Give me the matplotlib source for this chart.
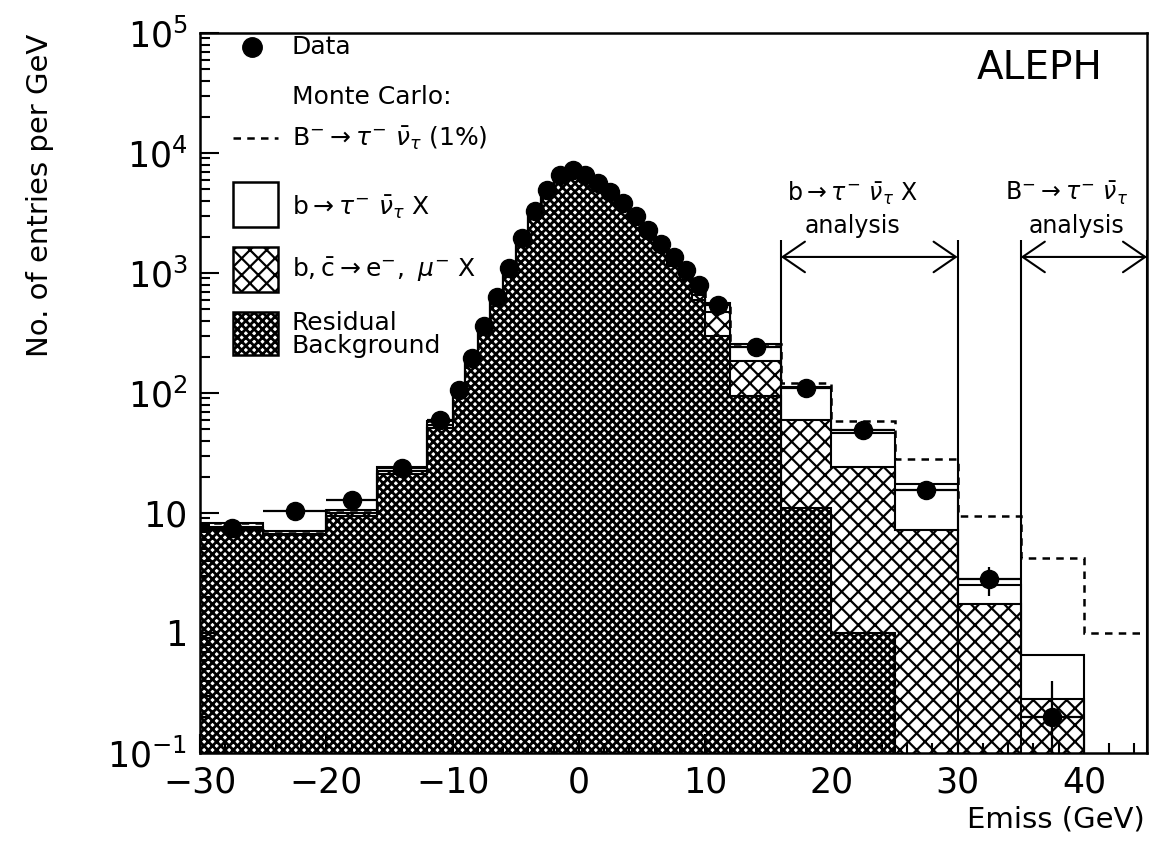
import numpy as np
import matplotlib.pyplot as plt
from matplotlib.patches import Rectangle
from matplotlib.ticker import FixedLocator, FixedFormatter, MultipleLocator, LogLocator, NullFormatter

plt.rcParams['font.family'] = ['DejaVu Sans']
plt.rcParams['mathtext.fontset'] = 'dejavusans'

# bin edges (GeV): wide bins in the tails, 1 GeV bins around the peak
edges = [-30, -25, -20, -16, -12] + list(range(-10, 11)) + [12, 16, 20, 25, 30, 35, 40, 45]

# entries per GeV
data = [7.5, 10.4, 12.8, 23.7, 60,
        106, 195, 360, 630, 1100, 1950, 3300, 4900, 6500, 7200,
        6600, 5600, 4700, 3800, 3000, 2300, 1750, 1350, 1050, 800,
        540, 240, 110, 49, 15.6, 2.8, 0.2, np.nan]
data_err = [1.2, 1.4, 1.8, 2.4, 5.5,
            10, 14, 19, 25, 33, 44, 57, 70, 81, 85,
            81, 75, 69, 62, 55, 48, 42, 37, 32, 29,
            16, 7.7, 5.2, 3.1, 1.8, 0.75, 0.2, 0]

residual = [7.2, 6.5, 9.5, 21, 51,
            95, 178, 335, 595, 1035, 1860, 3130, 4700, 6150, 6800,
            6200, 5300, 4400, 3550, 2700, 2050, 1540, 1150, 880, 600,
            300, 95, 11, 1.0, 0, 0, 0, 0]
semilep = [0.4, 0.2, 0.5, 1.5, 3,
           2, 3, 5, 7, 10, 15, 20, 30, 50, 70,
           70, 80, 80, 80, 80, 80, 60, 50, 50, 60,
           170, 90, 49, 23, 7.2, 1.75, 0.28, 0]
btau = [0.7, 0.4, 0.5, 1.5, 4,
        3, 4, 5, 8, 15, 25, 50, 70, 100, 130,
        130, 120, 120, 120, 120, 120, 100, 100, 120, 140,
        90, 70, 52, 22, 10.3, 0.75, 0.37, 0]
# B- -> tau nu at 1% branching ratio, added on top of the MC sum
b_taunu = [0] * 27 + [8, 12, 10.5, 7, 3.55, 1.0]

edges = np.array(edges, float)
centers = 0.5 * (edges[1:] + edges[:-1])
halfw = 0.5 * (edges[1:] - edges[:-1])
floor = 1e-3

res_top = np.maximum(np.array(residual), floor)
sl_top = np.maximum(np.array(residual) + np.array(semilep), floor)
tot_top = np.maximum(sl_top + np.array(btau), floor)
sig_top = tot_top + np.array(b_taunu)

COARSE, COARSE_LW = 'xx', 1.6
FINE, FINE_LW = 'xxxx', 2.0


def hatched(artist, lw):
    if hasattr(artist, 'set_hatch_linewidth'):
        artist.set_hatch_linewidth(lw)
    return artist


fig = plt.figure(figsize=(11.57, 8.43), dpi=100)
ax = fig.add_axes([0.1729, 0.1068, 0.8185, 0.8541])
ax.set_yscale('log')
ax.set_xlim(-30, 45)
ax.set_ylim(0.1, 1e5)

ax.stairs(tot_top, edges, baseline=floor, fill=True, facecolor='white', edgecolor='k', lw=1.5)
with plt.rc_context({'hatch.linewidth': COARSE_LW}):
    hatched(ax.stairs(sl_top, edges, baseline=floor, fill=True, facecolor='white',
                      edgecolor='k', hatch=COARSE, lw=1.5), COARSE_LW)
with plt.rc_context({'hatch.linewidth': FINE_LW}):
    hatched(ax.stairs(res_top, edges, baseline=floor, fill=True, facecolor='white',
                      edgecolor='k', hatch=FINE, lw=1.5), FINE_LW)
ax.stairs(sig_top, edges, baseline=None, color='k', lw=1.8, linestyle=(0, (3, 2.5)))

ax.errorbar(centers, data, xerr=halfw, yerr=data_err, fmt='o', color='k',
            ms=13, lw=1.6, capsize=0, zorder=5)

# analysis windows
ax.vlines([16, 30, 35, 45], 0.1, 1880, color='k', lw=1.5)
arrow = dict(arrowstyle='<->,head_length=0.8,head_width=0.55', lw=1.5, color='k',
             shrinkA=0, shrinkB=0, mutation_scale=20)
ax.annotate('', xy=(16, 1360), xytext=(30, 1360), arrowprops=arrow)
ax.annotate('', xy=(35, 1360), xytext=(45, 1360), arrowprops=arrow)
ax.text(21.7, 4600, r'$\mathrm{b}\rightarrow\tau^{-}\ \bar{\nu}_{\tau}\ \mathrm{X}$',
        fontsize=17, ha='center', va='center')
ax.text(21.7, 2450, 'analysis', fontsize=17, ha='center', va='center')
ax.text(38.6, 4600, r'$\mathrm{B}^{-}\rightarrow\tau^{-}\ \bar{\nu}_{\tau}$',
        fontsize=17, ha='center', va='center')
ax.text(39.4, 2450, 'analysis', fontsize=17, ha='center', va='center')

ax.text(0.953, 0.951, 'ALEPH', transform=ax.transAxes, fontsize=28, ha='right', va='center')

# legend
tA = ax.transAxes
ax.plot([0.0549], [0.9806], 'o', color='k', ms=14, transform=tA, clip_on=False)
ax.text(0.0971, 0.9806, 'Data', transform=tA, fontsize=18, va='center')
ax.text(0.0971, 0.9111, 'Monte Carlo:', transform=tA, fontsize=18, va='center')
ax.plot([0.0348, 0.0824], [0.8542, 0.8542], color='k', lw=1.8, linestyle=(0, (3, 2.5)), transform=tA)
ax.text(0.0971, 0.8542, r'$\mathrm{B}^{-}\rightarrow\tau^{-}\ \bar{\nu}_{\tau}$ (1%)',
        transform=tA, fontsize=18, va='center')
ax.add_patch(Rectangle((0.0348, 0.7306), 0.0475, 0.0625, transform=tA,
                       facecolor='white', edgecolor='k', lw=1.8))
ax.text(0.0971, 0.7583, r'$\mathrm{b}\rightarrow\tau^{-}\ \bar{\nu}_{\tau}\ \mathrm{X}$',
        transform=tA, fontsize=18, va='center')
with plt.rc_context({'hatch.linewidth': COARSE_LW}):
    ax.add_patch(hatched(Rectangle((0.0348, 0.6403), 0.0475, 0.0625, transform=tA,
                                   facecolor='white', edgecolor='k', hatch=COARSE, lw=1.8),
                         COARSE_LW))
ax.text(0.0971, 0.6708, r'$\mathrm{b},\bar{\mathrm{c}}\rightarrow\mathrm{e}^{-},\ \mu^{-}\ \mathrm{X}$',
        transform=tA, fontsize=18, va='center')
with plt.rc_context({'hatch.linewidth': FINE_LW}):
    ax.add_patch(hatched(Rectangle((0.0348, 0.5528), 0.0475, 0.0597, transform=tA,
                                   facecolor='white', edgecolor='k', hatch=FINE, lw=1.8),
                         FINE_LW))
ax.text(0.0971, 0.5813, 'Residual\nBackground', transform=tA, fontsize=18,
        va='center', linespacing=0.95)

# axes styling
ax.xaxis.set_major_locator(FixedLocator([-30, -20, -10, 0, 10, 20, 30, 40]))
ax.xaxis.set_minor_locator(MultipleLocator(2))
ax.yaxis.set_major_locator(FixedLocator([0.1, 1, 10, 100, 1000, 1e4, 1e5]))
ax.yaxis.set_major_formatter(FixedFormatter([r'$10^{-1}$', '1', '10', r'$10^{2}$',
                                             r'$10^{3}$', r'$10^{4}$', r'$10^{5}$']))
ax.yaxis.set_minor_locator(LogLocator(base=10, subs=np.arange(2, 10)))
ax.yaxis.set_minor_formatter(NullFormatter())
ax.tick_params(which='both', direction='in', top=False, right=False, width=1.5)
ax.tick_params(which='major', length=14, labelsize=25, pad=9)
ax.tick_params(which='minor', length=7)
for s in ax.spines.values():
    s.set_linewidth(1.8)

fig.text(0.0346, 0.7687, 'No. of entries per GeV', rotation=90, fontsize=21,
         ha='center', va='center')
fig.text(0.9896, 0.0273, 'Emiss (GeV)', fontsize=21, ha='right', va='center')

fig.savefig('out.png', dpi=100)
